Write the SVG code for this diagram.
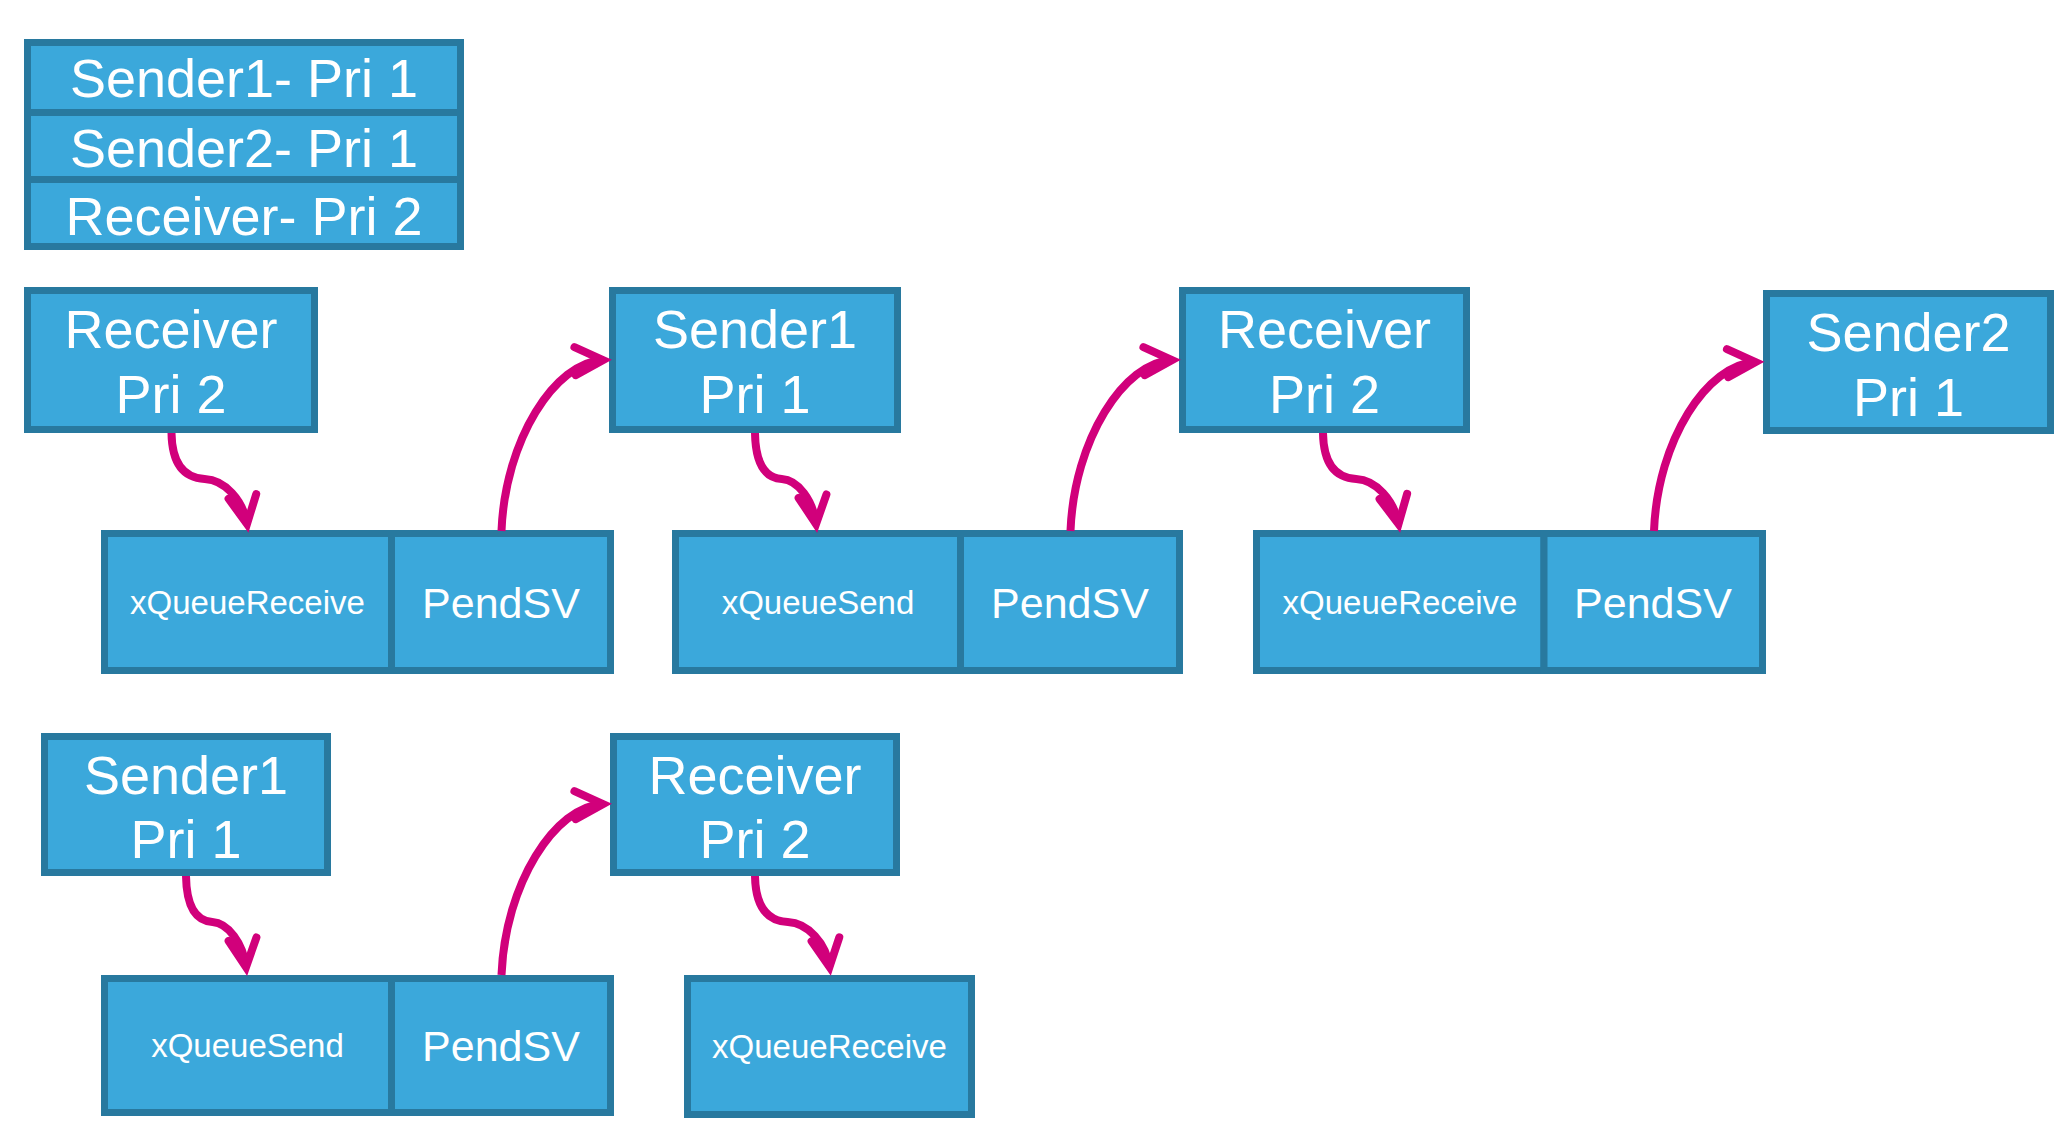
<svg xmlns="http://www.w3.org/2000/svg" width="2066" height="1135" viewBox="0 0 2066 1135">
<style>
.box{fill:#3ba8db;stroke:#28799f;stroke-width:7}
.t{font-family:"Liberation Sans",Arial,sans-serif;fill:#ffffff;text-anchor:middle}
.big{font-size:54px}
.mid{font-size:43px}
.sm{font-size:33px}
.arr{fill:none;stroke:#d1007b;stroke-width:8;marker-end:url(#ah)}
</style>
<defs>
<marker id="ah" markerUnits="userSpaceOnUse" markerWidth="60" markerHeight="60" viewBox="-40 -30 60 60" refX="0" refY="0" orient="auto" overflow="visible">
<polyline points="-28,-14 0,0 -28,14" fill="none" stroke="#d1007b" stroke-width="8" stroke-linecap="round" stroke-linejoin="miter"/>
</marker>
</defs>
<rect width="2066" height="1135" fill="#ffffff"/>
<g id="legend">
<rect class="box" x="27.5" y="42.5" width="433" height="70"/>
<rect class="box" x="27.5" y="112.5" width="433" height="67"/>
<rect class="box" x="27.5" y="179.5" width="433" height="67"/>
<text class="t big" x="244" y="97">Sender1- Pri 1</text>
<text class="t big" x="244" y="167">Sender2- Pri 1</text>
<text class="t big" x="244" y="235">Receiver- Pri 2</text>
</g>
<g id="task-receiver-1">
<rect class="box" x="27.5" y="290.5" width="287" height="139"/>
<text class="t big" x="171" y="348">Receiver</text>
<text class="t big" x="171" y="413">Pri 2</text>
</g>
<g id="task-sender1-1">
<rect class="box" x="612.5" y="290.5" width="285" height="139"/>
<text class="t big" x="755" y="348">Sender1</text>
<text class="t big" x="755" y="413">Pri 1</text>
</g>
<g id="task-receiver-2">
<rect class="box" x="1182.5" y="290.5" width="284" height="139"/>
<text class="t big" x="1324.5" y="348">Receiver</text>
<text class="t big" x="1324.5" y="413">Pri 2</text>
</g>
<g id="task-sender2">
<rect class="box" x="1766.5" y="293.5" width="284" height="137"/>
<text class="t big" x="1908.5" y="351">Sender2</text>
<text class="t big" x="1908.5" y="416">Pri 1</text>
</g>
<g id="queue-1">
<rect class="box" x="104.5" y="533.5" width="287" height="137"/>
<rect class="box" x="391.5" y="533.5" width="219" height="137"/>
<text class="t sm" x="247.5" y="614">xQueueReceive</text>
<text class="t mid" x="501" y="618">PendSV</text>
</g>
<g id="queue-2">
<rect class="box" x="675.5" y="533.5" width="285" height="137"/>
<rect class="box" x="960.5" y="533.5" width="219" height="137"/>
<text class="t sm" x="818" y="614">xQueueSend</text>
<text class="t mid" x="1070" y="618">PendSV</text>
</g>
<g id="queue-3">
<rect class="box" x="1256.5" y="533.5" width="287.5" height="137"/>
<rect class="box" x="1544" y="533.5" width="218.5" height="137"/>
<text class="t sm" x="1400" y="614">xQueueReceive</text>
<text class="t mid" x="1653" y="618">PendSV</text>
</g>
<g id="task-sender1-2">
<rect class="box" x="44.5" y="736.5" width="283" height="136"/>
<text class="t big" x="186" y="794">Sender1</text>
<text class="t big" x="186" y="858">Pri 1</text>
</g>
<g id="task-receiver-3">
<rect class="box" x="613.5" y="736.5" width="283" height="136"/>
<text class="t big" x="755" y="794">Receiver</text>
<text class="t big" x="755" y="858">Pri 2</text>
</g>
<g id="queue-4">
<rect class="box" x="104.5" y="978.5" width="287" height="134"/>
<rect class="box" x="391.5" y="978.5" width="219" height="134"/>
<text class="t sm" x="247.5" y="1057">xQueueSend</text>
<text class="t mid" x="501" y="1061">PendSV</text>
</g>
<g id="queue-5">
<rect class="box" x="687.5" y="978.5" width="284" height="136"/>
<text class="t sm" x="829.5" y="1058">xQueueReceive</text>
</g>
<g id="connectors">
<path class="arr" d="M171.5,433 C172,465 185,478 204.7,479 C225,480 243,500 247,524"/>
<path class="arr" d="M755,433 C755.5,465 766,478 781.8,479 C798,480 813,500 816,524"/>
<path class="arr" d="M1323,433 C1323.5,465 1336.6,478 1356.2,479 C1376,480 1394,500 1398.5,524"/>
<path class="arr" d="M186,876 C186.5,908 196.8,921 212.4,922 C228,923 243,943 246,967"/>
<path class="arr" d="M755,876 C755.5,908 768.4,921 787.8,922 C808,923 826,943 829.5,967"/>
<path class="arr" d="M501.5,531 C505,440 555,362 603,360"/>
<path class="arr" d="M1070.5,531 C1074,440 1124,362 1172,360"/>
<path class="arr" d="M1654,531 C1657.5,440 1707.5,364 1755.5,362"/>
<path class="arr" d="M501.5,975 C505,884 555,806 603,804"/>
</g>
</svg>
